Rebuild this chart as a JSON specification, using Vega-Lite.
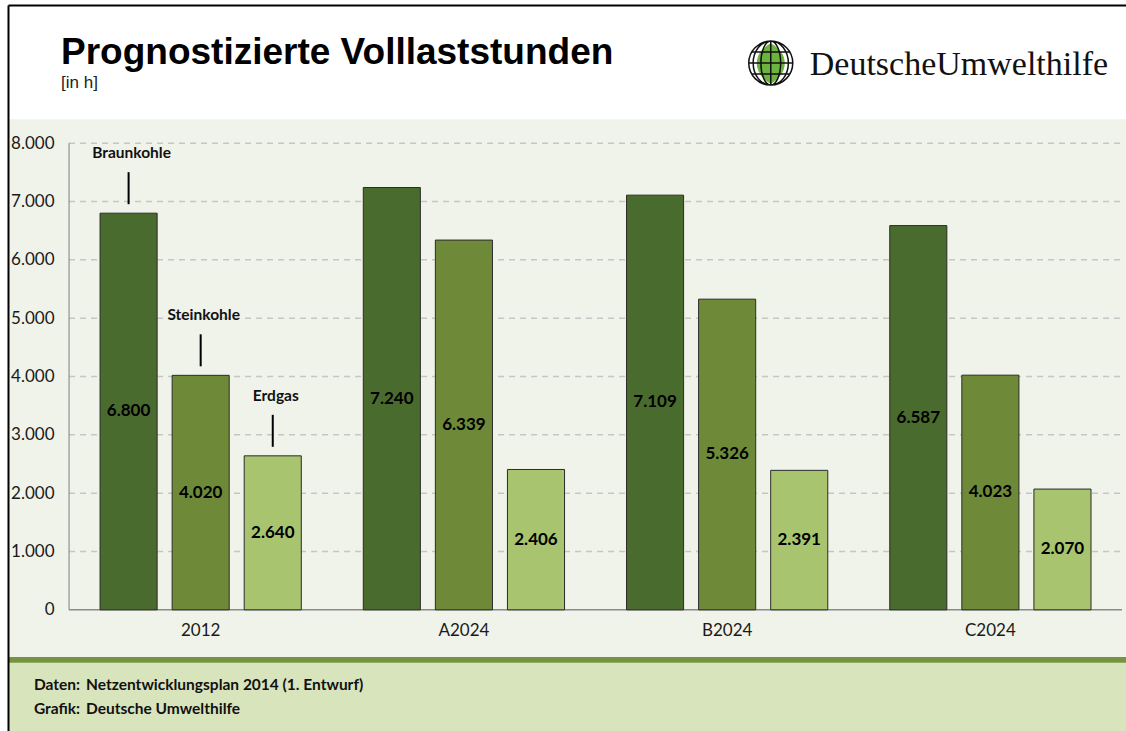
{
  "$schema": "https://vega.github.io/schema/vega-lite/v6.json",
  "width": 1126,
  "height": 731,
  "autosize": {"type": "fit", "contains": "padding"},
  "padding": {"left": 8, "top": 5, "right": 0, "bottom": 0},
  "background": "#ffffff",
  "config": {
    "view": {"fill": "#f0f3e9", "stroke": null},
    "locale": {"number": {"decimal": ",", "thousands": ".", "grouping": [3], "currency": ["", " €"]}},
    "font": "Lato"
  },
  "title": {
    "text": "Prognostizierte Volllaststunden",
    "subtitle": "[in h]",
    "anchor": "start",
    "frame": "group",
    "dx": 53,
    "offset": -87,
    "font": "Liberation Sans",
    "fontSize": 37,
    "fontWeight": "bold",
    "color": "#000000",
    "subtitleFont": "Liberation Sans",
    "subtitleFontSize": 17,
    "subtitleColor": "#222222",
    "subtitlePadding": 3
  },
  "datasets": {
    "bars": [
      {"group": "2012", "fuel": "Braunkohle", "value": 6800},
      {"group": "2012", "fuel": "Steinkohle", "value": 4020},
      {"group": "2012", "fuel": "Erdgas", "value": 2640},
      {"group": "A2024", "fuel": "Braunkohle", "value": 7240},
      {"group": "A2024", "fuel": "Steinkohle", "value": 6339},
      {"group": "A2024", "fuel": "Erdgas", "value": 2406},
      {"group": "B2024", "fuel": "Braunkohle", "value": 7109},
      {"group": "B2024", "fuel": "Steinkohle", "value": 5326},
      {"group": "B2024", "fuel": "Erdgas", "value": 2391},
      {"group": "C2024", "fuel": "Braunkohle", "value": 6587},
      {"group": "C2024", "fuel": "Steinkohle", "value": 4023},
      {"group": "C2024", "fuel": "Erdgas", "value": 2070}
    ],
    "grid": [
      {"tick": 1000}, {"tick": 2000}, {"tick": 3000}, {"tick": 4000},
      {"tick": 5000}, {"tick": 6000}, {"tick": 7000}, {"tick": 8000}
    ]
  },
  "resolve": {"scale": {"y": "independent"}, "axis": {"x": "independent", "y": "independent"}},
  "layer": [
    {
      "resolve": {"axis": {"x": "independent", "y": "independent"}},
      "layer": [
        {
          "data": {"values": [{}]},
          "mark": {"type": "rect", "fill": "#ffffff", "strokeWidth": 0},
          "encoding": {"y": {"datum": 10369, "axis": null}, "y2": {"datum": 8412}}
        },
        {
          "data": {"values": [{}]},
          "mark": {"type": "rect", "fill": "#d8e4bc", "strokeWidth": 0},
          "encoding": {"y": {"datum": -909, "axis": null}, "y2": {"datum": -2077.5}}
        },
        {
          "data": {"values": [{}]},
          "mark": {"type": "rect", "fill": "#77933c", "strokeWidth": 0},
          "encoding": {"y": {"datum": -807, "axis": null}, "y2": {"datum": -909}}
        },
        {
          "data": {"name": "grid"},
          "mark": {"type": "rule", "color": "#c6c6c6", "strokeWidth": 1.5, "strokeDash": [6, 5]},
          "encoding": {
            "x": {"datum": "2012", "bandPosition": 0, "axis": {"orient": "top", "offset": 0, "domain": true, "domainColor": "#000000", "domainWidth": 2, "labels": false, "ticks": false, "grid": false, "title": null, "zindex": 2}},
            "x2": {"datum": "C2024", "bandPosition": 1},
            "y": {"field": "tick", "type": "quantitative", "axis": {"orient": "left", "offset": 0, "domain": true, "domainColor": "#000000", "domainWidth": 2, "labels": false, "ticks": false, "grid": false, "title": null, "zindex": 2}}
          }
        },
        {
          "data": {"values": [{}]},
          "mark": {"type": "rule", "color": "#8a8a8a", "strokeWidth": 1.5},
          "encoding": {
            "x": {"datum": "2012", "bandPosition": 0, "axis": null},
            "x2": {"datum": "C2024", "bandPosition": 1},
            "y": {"datum": 0, "axis": null}
          }
        },
        {
          "data": {"values": [{}]},
          "mark": {"type": "rule", "color": "#7f7f7f", "strokeWidth": 1},
          "encoding": {
            "x": {"datum": "2012", "bandPosition": 0, "axis": null},
            "y": {"datum": 0, "axis": null},
            "y2": {"datum": 8000}
          }
        },
        {
          "data": {"name": "bars"},
          "mark": {"type": "bar", "stroke": "#2b2b2b", "strokeWidth": 1},
          "encoding": {
            "x": {
              "field": "group", "type": "nominal", "sort": null,
              "scale": {"paddingInner": 0, "paddingOuter": 0.12357, "align": 0.9385},
              "axis": {"orient": "bottom", "offset": -121, "title": null, "domain": false, "ticks": false, "grid": false, "labelAngle": 0, "labelFont": "Lato", "labelFontSize": 17, "labelColor": "#1a1a1a", "labelPadding": 12}
            },
            "xOffset": {
              "field": "fuel", "type": "nominal", "sort": ["Braunkohle", "Steinkohle", "Erdgas"],
              "scale": {"paddingInner": 0.208, "paddingOuter": 0.43}
            },
            "y": {
              "field": "value", "type": "quantitative",
              "scale": {"domain": [-2077.5, 10369], "nice": false, "zero": false},
              "axis": {"orient": "left", "offset": -61, "title": null, "values": [0, 1000, 2000, 3000, 4000, 5000, 6000, 7000, 8000], "format": ",d", "domain": false, "ticks": false, "grid": false, "labelFont": "Lato", "labelFontSize": 17, "labelColor": "#1a1a1a", "labelPadding": 15}
            },
            "color": {
              "field": "fuel", "type": "nominal",
              "scale": {"domain": ["Braunkohle", "Steinkohle", "Erdgas"], "range": ["#4a6b2e", "#6e8a39", "#a9c46f"]},
              "legend": null
            }
          }
        },
        {
          "data": {"name": "bars"},
          "transform": [{"filter": "datum.group === '2012'"}],
          "mark": {"type": "rule", "color": "#000000", "strokeWidth": 2, "yOffset": -9, "y2Offset": -41},
          "encoding": {
            "x": {"field": "group", "type": "nominal", "axis": null},
            "xOffset": {"field": "fuel", "type": "nominal", "sort": ["Braunkohle", "Steinkohle", "Erdgas"]},
            "y": {"field": "value", "type": "quantitative", "axis": null},
            "y2": {"field": "value"}
          }
        },
        {
          "data": {"name": "bars"},
          "transform": [{"filter": "datum.group === '2012'"}],
          "mark": {"type": "text", "font": "Lato", "fontSize": 15.5, "fontWeight": "bold", "color": "#111111", "baseline": "middle", "dy": -60, "dx": 3},
          "encoding": {
            "x": {"field": "group", "type": "nominal", "axis": null},
            "xOffset": {"field": "fuel", "type": "nominal", "sort": ["Braunkohle", "Steinkohle", "Erdgas"]},
            "y": {"field": "value", "type": "quantitative", "axis": null},
            "text": {"field": "fuel"}
          }
        },
        {
          "data": {"values": [{}]},
          "mark": {"type": "point", "filled": true, "fill": "#6db33f", "strokeWidth": 0, "opacity": 1, "size": 1936, "xOffset": -88,
            "shape": "M0,-0.9C0.85,-0.45,0.85,0.45,0,0.95C-0.85,0.45,-0.85,-0.45,0,-0.9Z"},
          "encoding": {
            "x": {"datum": "C2024", "bandPosition": 0, "axis": null},
            "y": {"datum": 9373, "axis": null}
          }
        },
        {
          "data": {"values": [{}]},
          "mark": {"type": "point", "filled": false, "stroke": "#111111", "strokeWidth": 1.5, "opacity": 1, "size": 1936, "xOffset": -88,
            "shape": "M-1,0A1,1,0,1,0,1,0A1,1,0,1,0,-1,0Z M0,-1L0,1 M-1,0L1,0 M-0.87,-0.5L0.87,-0.5 M-0.87,0.5L0.87,0.5 M0,-1A0.45,1,0,0,0,0,1 M0,-1A0.45,1,0,0,1,0,1 M0,-1A0.8,1,0,0,0,0,1 M0,-1A0.8,1,0,0,1,0,1"},
          "encoding": {
            "x": {"datum": "C2024", "bandPosition": 0, "axis": null},
            "y": {"datum": 9373, "axis": null}
          }
        },
        {
          "data": {"values": [{}]},
          "mark": {"type": "text", "text": "DeutscheUmwelthilfe", "font": "Liberation Serif", "fontSize": 34, "align": "left", "baseline": "alphabetic", "dx": -49, "color": "#111111"},
          "encoding": {
            "x": {"datum": "C2024", "bandPosition": 0, "axis": null},
            "y": {"datum": 9167, "axis": null}
          }
        },
        {
          "data": {"values": [{}]},
          "mark": {"type": "text", "text": "Daten:", "font": "Lato", "fontSize": 15.5, "fontWeight": "bold", "align": "right", "baseline": "middle", "dx": 11, "color": "#111111"},
          "encoding": {
            "x": {"datum": "2012", "bandPosition": 0, "axis": null},
            "y": {"datum": -1288, "axis": null}
          }
        },
        {
          "data": {"values": [{}]},
          "mark": {"type": "text", "text": "Netzentwicklungsplan 2014 (1. Entwurf)", "font": "Lato", "fontSize": 15.5, "fontWeight": "bold", "align": "left", "baseline": "middle", "dx": 17, "color": "#111111"},
          "encoding": {
            "x": {"datum": "2012", "bandPosition": 0, "axis": null},
            "y": {"datum": -1288, "axis": null}
          }
        },
        {
          "data": {"values": [{}]},
          "mark": {"type": "text", "text": "Grafik:", "font": "Lato", "fontSize": 15.5, "fontWeight": "bold", "align": "right", "baseline": "middle", "dx": 11, "color": "#111111"},
          "encoding": {
            "x": {"datum": "2012", "bandPosition": 0, "axis": null},
            "y": {"datum": -1700, "axis": null}
          }
        },
        {
          "data": {"values": [{}]},
          "mark": {"type": "text", "text": "Deutsche Umwelthilfe", "font": "Lato", "fontSize": 15.5, "fontWeight": "bold", "align": "left", "baseline": "middle", "dx": 17, "color": "#111111"},
          "encoding": {
            "x": {"datum": "2012", "bandPosition": 0, "axis": null},
            "y": {"datum": -1700, "axis": null}
          }
        }
      ]
    },
    {
      "data": {"name": "bars"},
      "mark": {"type": "text", "font": "Lato", "fontSize": 17, "fontWeight": "bold", "color": "#000000", "baseline": "middle"},
      "encoding": {
        "x": {"field": "group", "type": "nominal", "axis": null},
        "xOffset": {"field": "fuel", "type": "nominal", "sort": ["Braunkohle", "Steinkohle", "Erdgas"]},
        "y": {"field": "value", "type": "quantitative", "scale": {"domain": [-4155, 20738], "nice": false, "zero": false}, "axis": null},
        "text": {"field": "value", "type": "quantitative", "format": ",d"}
      }
    }
  ]
}
